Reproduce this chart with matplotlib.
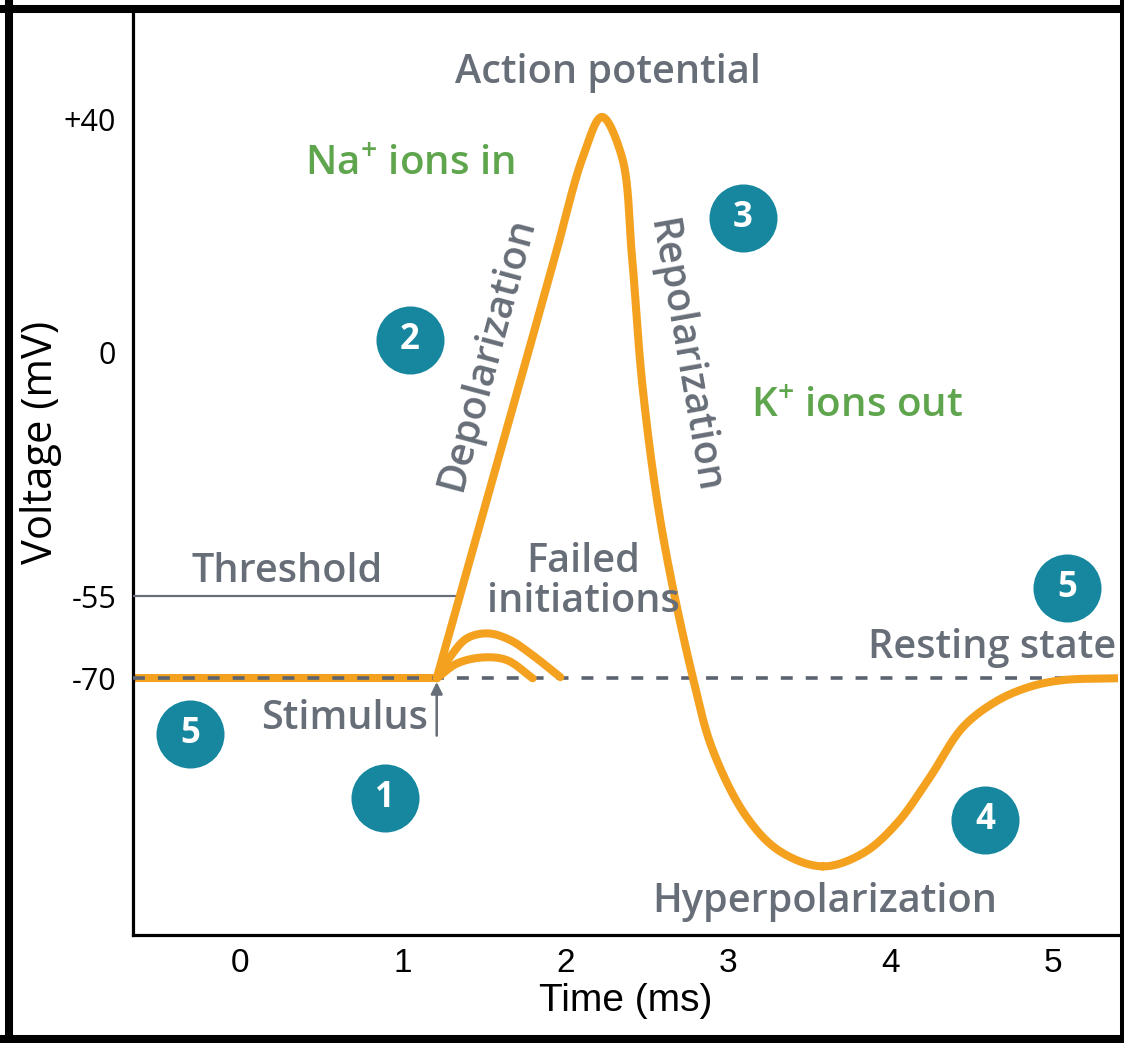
import numpy as np
import matplotlib.pyplot as plt
from matplotlib.lines import Line2D

plt.rcParams['mathtext.fontset'] = 'custom'
plt.rcParams['mathtext.rm'] = 'Open Sans:semibold'

# action potential trace (ms, mV)
time_ap = [1.21, 1.708, 1.937, 2.109, 2.226, 2.349, 2.411, 2.478, 2.595, 2.786,
           2.909, 3.118, 3.321, 3.585, 3.832, 4.041, 4.244, 4.446, 4.656, 4.859,
           5.06, 5.40]
volt_ap = [-70, -8.6, 16.4, 33.6, 40.5, 33.6, 16.4, -8.6, -40.1, -70,
           -77.7, -84.8, -88.4, -90.0, -88.6, -85.4, -80.5, -75.2, -72.4, -70.9,
           -70.2, -70]

# resting stretch before the stimulus
time_rest = [-0.66, 1.21]
volt_rest = [-70, -70]

# two failed initiations
time_fail_hi = [1.21, 1.29, 1.396, 1.525, 1.66, 1.80, 1.97]
volt_fail_hi = [-70, -66.2, -62.7, -61.8, -63.0, -65.8, -69.8]
time_fail_lo = [1.21, 1.335, 1.494, 1.642, 1.80]
volt_fail_lo = [-70, -67.3, -66.2, -66.7, -70]

threshold_mv = -55
rest_mv = -70
threshold_end = 1.32

y_ticks = [-70, -55, 0, 40]
y_ticklabels = ['-70', '-55', '0', '+40']
x_ticks = [0, 1, 2, 3, 4, 5]

# numbered stages: (time, mV, label)
stage_t = [-0.307, 0.892, 1.045, 3.093, 4.582, 5.086]
stage_v = [-75.9, -82.7, 2.1, 23.1, -85.1, -53.2]
stage_lbl = ['5', '1', '2', '3', '4', '5']

ORANGE = '#F4A11F'
TEAL = '#16879E'
GREEN = '#5FA54D'
GRAY = '#676E78'
DASH = '#5B6370'

# schematic (non-linear) voltage axis
mv_anchor = np.array([-200, -70, -55, 0, 40, 200])
px_anchor = np.array([1900, 678, 596, 352, 120, -808])
PX_PER_MS = 162.6


def fwd(v):
    return -np.interp(v, mv_anchor, px_anchor)


def inv(h):
    return np.interp(h, -px_anchor, mv_anchor)


def smooth(xs, ys, n=30):
    """Centripetal Catmull-Rom through the read points, in drawn space."""
    p = np.column_stack([np.asarray(xs, float) * PX_PER_MS, fwd(np.asarray(ys, float))])
    p = np.vstack([2 * p[0] - p[1], p, 2 * p[-1] - p[-2]])
    out = []
    for i in range(1, len(p) - 2):
        P0, P1, P2, P3 = p[i - 1], p[i], p[i + 1], p[i + 2]
        t0 = 0.0
        t1 = t0 + np.linalg.norm(P1 - P0) ** 0.5
        t2 = t1 + np.linalg.norm(P2 - P1) ** 0.5
        t3 = t2 + np.linalg.norm(P3 - P2) ** 0.5
        t = np.linspace(t1, t2, n)[:, None]
        A1 = (t1 - t) / (t1 - t0) * P0 + (t - t0) / (t1 - t0) * P1
        A2 = (t2 - t) / (t2 - t1) * P1 + (t - t1) / (t2 - t1) * P2
        A3 = (t3 - t) / (t3 - t2) * P2 + (t - t2) / (t3 - t2) * P3
        B1 = (t2 - t) / (t2 - t0) * A1 + (t - t0) / (t2 - t0) * A2
        B2 = (t3 - t) / (t3 - t1) * A2 + (t - t1) / (t3 - t1) * A3
        out.append((t2 - t) / (t2 - t1) * B1 + (t - t1) / (t2 - t1) * B2)
    out = np.vstack(out)
    return out[:, 0] / PX_PER_MS, inv(out[:, 1])


fig = plt.figure(figsize=(11.24, 10.43), dpi=100)
ax = fig.add_axes([0.1183, 0.1035, 0.8764, 0.8840])
ax.set_yscale('function', functions=(fwd, inv))
ax.set_xlim(-0.658, 5.40)
ax.set_ylim(-97.3, 58.4)

LW = 5.8
ax.plot(time_rest, volt_rest, color=ORANGE, lw=LW, solid_capstyle='butt', zorder=2)
ax.axhline(rest_mv, color=DASH, lw=2.6, dashes=(3.3, 3.6), zorder=3)
for tt, vv in [(time_fail_hi, volt_fail_hi), (time_fail_lo, volt_fail_lo)]:
    sx, sy = smooth(tt, vv)
    ax.plot(sx, sy, color=ORANGE, lw=LW, solid_capstyle='round', zorder=4)
sx, sy = smooth(time_ap, volt_ap)
ax.plot(sx, sy, color=ORANGE, lw=LW, solid_capstyle='round',
        solid_joinstyle='round', zorder=5)

ax.plot([-0.658, threshold_end], [threshold_mv, threshold_mv], color=GRAY, lw=1.6, zorder=3)

ax.annotate('', xy=(1.21, -70.4), xytext=(1.21, -76.1),
            arrowprops=dict(arrowstyle='-|>,head_length=0.7,head_width=0.35',
                            color=GRAY, lw=1.8, shrinkA=0, shrinkB=0), zorder=6)

ax.scatter(stage_t, stage_v, s=2400, color=TEAL, zorder=7, linewidths=0)
for t, v, l in zip(stage_t, stage_v, stage_lbl):
    ax.text(t, v, l, color='white', fontsize=25, fontweight='bold',
            family='Open Sans', ha='center', va='center', zorder=8)

FS = 28.5
txt = dict(family='Open Sans', fontweight='semibold', fontsize=FS, color=GRAY,
           ha='center', va='center', zorder=6)
ax.text(2.263, 48.1, 'Action potential', **txt)
ax.text(0.289, -49.6, 'Threshold', **txt)
ax.text(2.109, -51.8, 'Failed\ninitiations', linespacing=1.02, **txt)
ax.text(4.625, -64.5, 'Resting state', **txt)
ax.text(3.598, -93.8, 'Hyperpolarization', **txt)
ax.text(1.519, -0.5, 'Depolarization', rotation=75, rotation_mode='anchor', **txt)
ax.text(2.724, -1.0, 'Repolarization', rotation=-80, rotation_mode='anchor', **txt)
ax.text(1.156, -74.3, 'Stimulus', family='Open Sans', fontweight='semibold',
        fontsize=FS, color=GRAY, ha='right', va='center', zorder=6)
ax.text(1.045, 32.2, 'Na$^{+}$ ions in', family='Open Sans', fontweight='semibold',
        fontsize=FS + 0.5, color=GREEN, ha='center', va='center')
ax.text(3.795, -12.4, 'K$^{+}$ ions out', family='Open Sans', fontweight='semibold',
        fontsize=FS + 0.5, color=GREEN, ha='center', va='center')

ax.set_yticks(y_ticks)
ax.set_yticklabels(y_ticklabels, family='Open Sans', fontsize=22)
ax.yaxis.set_minor_locator(plt.NullLocator())
ax.set_xticks(x_ticks)
ax.set_xticklabels([str(x) for x in x_ticks], family='Liberation Sans', fontsize=24)
ax.tick_params(axis='both', length=0)
ax.tick_params(axis='y', pad=12)
ax.tick_params(axis='x', pad=9)
ax.set_xlabel('Time (ms)', family='Liberation Sans', fontsize=28, labelpad=3)
ax.set_ylabel('Voltage (mV)', family='Open Sans', fontsize=30)
ax.yaxis.set_label_coords(-0.072, 0.534)

for side in ['top', 'right']:
    ax.spines[side].set_visible(False)
for side in ['left', 'bottom']:
    ax.spines[side].set_linewidth(2.3)
    ax.spines[side].set_color('black')

# outer frame of the picture
fig.add_artist(Line2D([0.008, 0.008], [0, 1], color='black', lw=5.8))
fig.add_artist(Line2D([0, 1], [0.9914, 0.9914], color='black', lw=5.8))
fig.add_artist(Line2D([0.9982, 0.9982], [0, 1], color='black', lw=2.9))
fig.add_artist(Line2D([0, 1], [0.0038, 0.0038], color='black', lw=5.8))

fig.savefig('out.png', dpi=100)
